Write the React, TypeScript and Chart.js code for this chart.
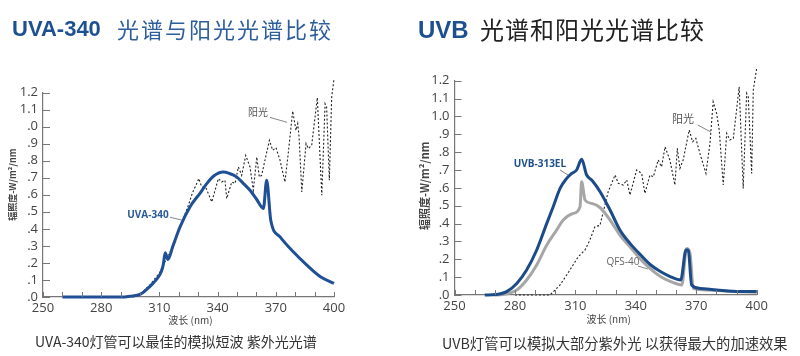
import React, { useEffect, useRef } from 'react';
import { Chart, registerables } from 'chart.js';
Chart.register(...registerables);

// ---------- DATA ----------
const xTickLabels = [250, 280, 310, 340, 370, 400];
const yTickLabelsA = ['.0', '.1', '.2', '.3', '.4', '.5', '.6', '.7', '.8', '.9', '.0', '1.1', '1.2'];
const yTickLabelsB = ['.0', '.1', '.2', '.3', '.4', '.5', '.6', '.7', '.8', '.9', '1.0', '1.1', '1.2'];

// Left chart: UVA-340 lamp
const uva340Nm = [260, 270, 280, 290, 295, 300, 303, 306.7, 309, 311, 312, 313, 314.4, 317, 320.6, 325.8, 331, 334.4, 338, 342.9, 346, 349.8, 353, 356.7, 360, 363.6, 365.3, 367.4, 372.2, 379, 386, 393, 400];
const uva340Val = [0, 0, 0, 0, 0.005, 0.015, 0.04, 0.08, 0.11, 0.15, 0.19, 0.26, 0.22, 0.3, 0.41, 0.53, 0.61, 0.665, 0.71, 0.733, 0.725, 0.705, 0.67, 0.626, 0.575, 0.52, 0.685, 0.45, 0.353, 0.265, 0.187, 0.119, 0.08];

// Left chart: sunlight
const sunANm = [296.5, 300, 305, 310, 312, 315, 317, 320, 322, 325, 327, 329, 330.3, 331.8, 334, 337.0, 340.4, 342.1, 343.8, 344.7, 347.3, 349.0, 350.7, 352.4, 354.5, 356.7, 358.4, 360.2, 361.5, 362.7, 364.4, 366.7, 368.4, 370.1, 372.2, 374.7, 376.4, 378.7, 380.4, 381.3, 382.0, 383.4, 385.6, 386.8, 388.5, 391.4, 393.7, 395.4, 396.2, 397.6, 398.8, 400];
const sunAVal = [0, 0.015, 0.07, 0.14, 0.19, 0.25, 0.31, 0.39, 0.45, 0.54, 0.61, 0.66, 0.695, 0.646, 0.64, 0.558, 0.695, 0.675, 0.685, 0.578, 0.675, 0.666, 0.763, 0.714, 0.831, 0.763, 0.626, 0.821, 0.704, 0.714, 0.802, 0.919, 0.861, 0.876, 0.802, 0.675, 0.841, 1.091, 0.978, 1.017, 0.939, 0.617, 0.9, 0.871, 0.89, 1.169, 0.597, 1.134, 1.114, 0.685, 1.173, 1.28];

// Right chart: UVB-313EL lamp
const uvbNm = [265, 270.7, 275.9, 280.9, 285.8, 290.8, 295.8, 299, 302.4, 305.7, 308.2, 310.6, 313.1, 315.6, 318.1, 322.2, 327.2, 332.1, 337.1, 342.4, 347.4, 352.4, 357.3, 362.3, 364.9, 366.0, 367.7, 371.8, 380.1, 391.7, 400];
const uvbVal = [0, 0.003, 0.019, 0.065, 0.14, 0.252, 0.401, 0.494, 0.597, 0.653, 0.681, 0.7, 0.76, 0.672, 0.644, 0.58, 0.476, 0.364, 0.289, 0.224, 0.168, 0.13, 0.102, 0.084, 0.252, 0.252, 0.056, 0.037, 0.028, 0.019, 0.019];

// Right chart: QFS-40 lamp
const qfsNm = [270, 274.2, 280.9, 285.8, 290.8, 295.8, 300.7, 304.0, 309.0, 312.3, 313.1, 314.8, 318.1, 322.2, 327.2, 332.1, 337.1, 342.0, 347.0, 352.4, 357.3, 362.8, 365.2, 366.9, 368.5, 375.2, 388.4, 400];
const qfsVal = [0, 0.003, 0.028, 0.084, 0.168, 0.28, 0.364, 0.42, 0.457, 0.494, 0.634, 0.532, 0.513, 0.49, 0.42, 0.336, 0.27, 0.205, 0.149, 0.102, 0.075, 0.056, 0.26, 0.233, 0.037, 0.028, 0.019, 0.015];

// Right chart: sunlight
const sunBNm = [280, 297.4, 302.4, 307.3, 311.4, 314.8, 317.2, 319.7, 322.2, 326.3, 329.7, 331.3, 333.8, 335.5, 337.1, 340.4, 342.9, 344.5, 347.0, 348.7, 351.1, 352.8, 354.5, 356.9, 359.4, 360.6, 361.9, 363.5, 366.5, 368.2, 369.8, 371.8, 374.8, 376.8, 378.4, 380.1, 381.4, 383.4, 385.1, 386.7, 388.4, 391.3, 393.3, 395.0, 395.8, 397.5, 398.3, 400];
const sunBVal = [0, 0, 0.056, 0.14, 0.214, 0.252, 0.308, 0.382, 0.39, 0.579, 0.672, 0.625, 0.616, 0.644, 0.56, 0.7, 0.681, 0.569, 0.672, 0.662, 0.756, 0.718, 0.83, 0.756, 0.616, 0.821, 0.709, 0.756, 0.924, 0.858, 0.877, 0.793, 0.681, 0.849, 1.082, 1.017, 0.924, 0.616, 0.905, 0.868, 0.877, 1.166, 0.597, 1.129, 1.11, 0.681, 1.148, 1.27];

const pts = (xs: number[], ys: number[]) => xs.map((x, i) => ({ x, y: ys[i] }));

type Note = { text: string; x: number; y: number; color: string; bold: boolean; size: number; l: number[] };

const notesA: Note[] = [
  { text: '阳光', x: 360.8, y: 1.077, color: '#555', bold: false, size: 10, l: [367, 1.054, 375.8, 1.025] },
  { text: 'UVA-340', x: 304.1, y: 0.48, color: '#2a5a9a', bold: true, size: 10, l: [315.5, 0.468, 321.6, 0.451] },
];
const notesB: Note[] = [
  { text: 'UVB-313EL', x: 292.4, y: 0.733, color: '#1f4f8c', bold: true, size: 10, l: [302.4, 0.7, 306.3, 0.672] },
  { text: '阳光', x: 363.4, y: 0.98, color: '#555', bold: false, size: 11, l: [370.7, 0.952, 377.2, 0.913] },
  { text: 'QFS-40', x: 333.6, y: 0.185, color: '#666', bold: false, size: 10, l: [341.1, 0.162, 346.0, 0.146] },
];

const FONT = '"Open Sans", "Noto Sans CJK SC", sans-serif';
const CJK = '"Noto Sans CJK SC", sans-serif';

type Cfg = {
  yLabels: string[];
  yWidth: number;
  xHeight: number;
  padTop: number;
  padRight: number;
  notes: Note[];
  xTitleDx: number;
  xTitleDy: number;
  yTitleX: number;
  yTitleDy: number;
  yTitleSize: number;
  datasets: any[];
};

function makeDecor(cfg: Cfg) {
  return {
    id: 'decor',
    afterDraw(chart: any) {
      const { ctx, chartArea } = chart;
      const xs = chart.scales.x;
      const ys = chart.scales.y;
      ctx.save();
      ctx.strokeStyle = '#777';
      ctx.lineWidth = 1;
      ctx.beginPath();
      xs.ticks.forEach((t: any) => {
        const px = Math.round(xs.getPixelForValue(t.value)) + 0.5;
        ctx.moveTo(px, chartArea.bottom);
        ctx.lineTo(px, chartArea.bottom - 5);
      });
      ys.ticks.forEach((t: any) => {
        const py = Math.round(ys.getPixelForValue(t.value)) + 0.5;
        ctx.moveTo(chartArea.left, py);
        ctx.lineTo(chartArea.left + 7, py);
      });
      ctx.stroke();

      // axis titles
      ctx.fillStyle = '#444';
      ctx.textAlign = 'center';
      ctx.textBaseline = 'middle';
      ctx.font = `10px ${CJK}`;
      ctx.fillText('波长 (nm)', (chartArea.left + chartArea.right) / 2 + cfg.xTitleDx, chartArea.bottom + cfg.xTitleDy);
      ctx.save();
      ctx.translate(cfg.yTitleX, (chartArea.top + chartArea.bottom) / 2 + cfg.yTitleDy);
      ctx.rotate(-Math.PI / 2);
      ctx.font = `bold ${cfg.yTitleSize}px ${CJK}`;
      ctx.fillText('辐照度-W/m²/nm', 0, 0);
      ctx.restore();

      // annotations
      cfg.notes.forEach((n) => {
        ctx.font = `${n.bold ? 'bold ' : ''}${n.size}px ${FONT}`;
        ctx.fillStyle = n.color;
        ctx.fillText(n.text, xs.getPixelForValue(n.x), ys.getPixelForValue(n.y));
        ctx.strokeStyle = '#666';
        ctx.lineWidth = 0.8;
        ctx.beginPath();
        ctx.moveTo(xs.getPixelForValue(n.l[0]), ys.getPixelForValue(n.l[1]));
        ctx.lineTo(xs.getPixelForValue(n.l[2]), ys.getPixelForValue(n.l[3]));
        ctx.stroke();
      });
      ctx.restore();
    },
  };
}

function SpectrumChart({ cfg, left }: { cfg: Cfg; left: number }) {
  const ref = useRef<HTMLCanvasElement>(null);
  useEffect(() => {
    const chart = new Chart(ref.current as HTMLCanvasElement, {
      type: 'line',
      data: { datasets: cfg.datasets },
      options: {
        animation: false,
        responsive: false,
        maintainAspectRatio: false,
        layout: { padding: { top: cfg.padTop, right: cfg.padRight, left: 0, bottom: 0 } },
        plugins: { legend: { display: false }, tooltip: { enabled: false } },
        elements: { point: { radius: 0 } },
        scales: {
          x: {
            type: 'linear',
            min: 250,
            max: 400,
            afterFit: (s: any) => { s.height = cfg.xHeight; },
            border: { display: true, color: '#777', width: 1.2 },
            grid: { display: false, drawTicks: false },
            ticks: {
              stepSize: 10,
              padding: 3,
              autoSkip: false,
              maxRotation: 0,
              color: '#444',
              font: { family: FONT, size: 13 },
              callback: (v: any) => (xTickLabels.includes(Number(v)) ? String(v) : ''),
            },
          },
          y: {
            type: 'linear',
            min: 0,
            max: 1.2,
            afterFit: (s: any) => { s.width = cfg.yWidth; },
            border: { display: true, color: '#777', width: 1.2 },
            grid: { display: false, drawTicks: false },
            ticks: {
              stepSize: 0.1,
              autoSkip: false,
              padding: 5,
              color: '#444',
              font: { family: FONT, size: 13 },
              callback: (v: any) => cfg.yLabels[Math.round(Number(v) * 10)] ?? '',
            },
          },
        },
      },
      plugins: [makeDecor(cfg)],
    });
    return () => chart.destroy();
  }, []);
  return (
    <canvas
      ref={ref}
      width={400}
      height={356}
      style={{ position: 'absolute', left, top: 0, width: 400, height: 356 }}
    />
  );
}

const cfgA: Cfg = {
  yLabels: yTickLabelsA,
  yWidth: 43,
  xHeight: 59,
  padTop: 92.5,
  padRight: 66,
  notes: notesA,
  xTitleDx: 2,
  xTitleDy: 23,
  yTitleX: 13,
  yTitleDy: -10,
  yTitleSize: 9,
  datasets: [
    {
      data: pts(uva340Nm, uva340Val),
      borderColor: '#1f5096',
      borderWidth: 3,
      cubicInterpolationMode: 'monotone',
      clip: false,
    },
    {
      data: pts(sunANm, sunAVal),
      borderColor: '#222',
      borderWidth: 1.1,
      borderDash: [2, 2],
      tension: 0,
      clip: false,
    },
  ],
};

const cfgB: Cfg = {
  yLabels: yTickLabelsB,
  yWidth: 54.5,
  xHeight: 61,
  padTop: 80.7,
  padRight: 43.3,
  notes: notesB,
  xTitleDx: 3,
  xTitleDy: 24,
  yTitleX: 25,
  yTitleDy: -2,
  yTitleSize: 11,
  datasets: [
    {
      data: pts(uvbNm, uvbVal),
      borderColor: '#1b4b88',
      borderWidth: 3,
      cubicInterpolationMode: 'monotone',
      clip: false,
    },
    {
      data: pts(qfsNm, qfsVal),
      borderColor: '#a6a6a6',
      borderWidth: 3,
      cubicInterpolationMode: 'monotone',
      clip: false,
    },
    {
      data: pts(sunBNm, sunBVal),
      borderColor: '#222',
      borderWidth: 1.1,
      borderDash: [2, 2],
      tension: 0,
      clip: false,
    },
  ],
};

const abs = (o: any) => ({ position: 'absolute' as const, whiteSpace: 'nowrap' as const, lineHeight: 1, margin: 0, ...o });

export default function App() {
  return (
    <div style={{ position: 'absolute', left: 0, top: 0, width: 800, height: 356, background: '#fff', overflow: 'hidden' }}>
      <SpectrumChart cfg={cfgA} left={0} />
      <SpectrumChart cfg={cfgB} left={400} />
      <div style={abs({ left: 12, top: 18, fontFamily: '"Liberation Sans", Arial, sans-serif', fontWeight: 'bold', fontSize: 22, color: '#1e5091' })}>UVA-340</div>
      <div style={abs({ left: 117, top: 17, fontFamily: CJK, fontSize: 22, letterSpacing: 2, color: '#2d5d9b' })}>光谱与阳光光谱比较</div>
      <div style={abs({ left: 418, top: 18, fontFamily: '"Liberation Sans", Arial, sans-serif', fontWeight: 'bold', fontSize: 24, color: '#1e5091' })}>UVB</div>
      <div style={abs({ left: 480, top: 17, fontFamily: CJK, fontSize: 24, letterSpacing: 1, color: '#222' })}>光谱和阳光光谱比较</div>
      <div style={abs({ left: 35, top: 334, fontFamily: CJK, fontSize: 14, color: '#333' })}>UVA-340灯管可以最佳的模拟短波 紫外光光谱</div>
      <div style={abs({ left: 442, top: 336, fontFamily: CJK, fontSize: 14.3, color: '#333' })}>UVB灯管可以模拟大部分紫外光 以获得最大的加速效果</div>
    </div>
  );
}
